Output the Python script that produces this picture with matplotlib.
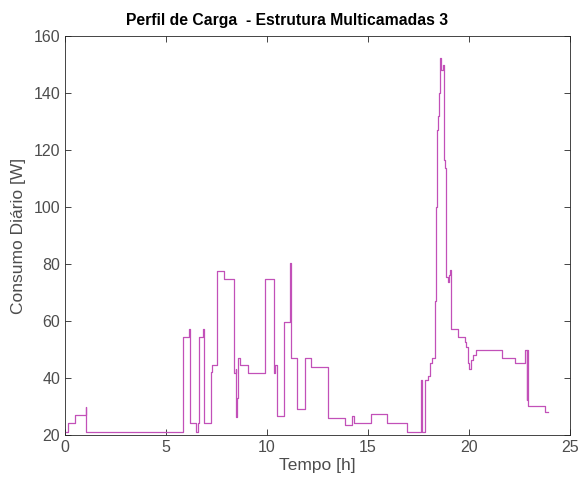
"""Perfil de carga diário - estrutura multicamadas 3."""

import matplotlib
matplotlib.use("Agg")
import matplotlib.pyplot as plt

# instantes de mudança [h] e consumo a partir desse instante [W]
tempo_h = [0.0, 0.16, 0.5, 1.02, 1.05, 5.83, 6.16, 6.21, 6.5, 6.57, 6.62,
           6.84, 6.87, 7.23, 7.28, 7.53, 7.86, 8.38, 8.45, 8.48, 8.52, 8.56,
           8.66, 9.04, 9.9, 10.36, 10.42, 10.49, 10.82, 11.13, 11.19, 11.5,
           11.88, 12.16, 13.02, 13.86, 14.22, 14.32, 15.15, 15.94, 16.93,
           17.62, 17.66, 17.83, 17.95, 18.08, 18.16, 18.33, 18.38, 18.42,
           18.47, 18.5, 18.55, 18.62, 18.72, 18.76, 18.8, 18.88, 18.95, 19.0,
           19.06, 19.1, 19.48, 19.81, 19.87, 19.94, 20.02, 20.1, 20.2, 20.33,
           21.61, 22.3, 22.76, 22.85, 22.88, 22.93, 23.75, 23.92]
consumo_w = [21.2, 24.1, 27.0, 30.0, 21.0, 54.3, 57.2, 24.1, 21.0, 24.1, 54.3,
             57.2, 24.1, 42.0, 44.5, 77.6, 74.7, 41.6, 43.0, 26.4, 33.0, 47.0,
             44.5, 41.6, 74.7, 41.6, 44.5, 26.8, 59.8, 80.2, 46.9, 29.0,
             46.9, 44.0, 26.1, 23.5, 26.7, 24.1, 27.2, 24.1, 20.9,
             39.3, 21.0, 39.3, 40.8, 45.1, 46.9, 67.0, 100.0, 127.0,
             132.0, 140.0, 152.2, 148.0, 150.0, 116.5, 113.6, 75.5, 73.8, 76.0,
             78.0, 57.2, 54.5, 52.7, 51.0, 45.2, 43.0, 46.3, 48.0, 50.0,
             47.1, 45.2, 50.0, 32.3, 50.0, 30.2, 28.2, 28.2]

cinza = (0.15, 0.15, 0.15)
texto = (0.3, 0.3, 0.3)
plt.rcParams["font.family"] = ["Liberation Sans", "DejaVu Sans"]

fig = plt.figure(figsize=(5.78, 4.84), dpi=100)
# eixos em pixels: x 65..570, y 36..435
ax = fig.add_axes([65 / 578, 49 / 484, 505 / 578, 399 / 484])

ax.step(tempo_h, consumo_w, where="post", color="#C250B8", linewidth=0.9)

ax.set_xlim(0, 25)
ax.set_ylim(20, 160)
ax.set_xticks(range(0, 26, 5))
ax.set_yticks(range(20, 161, 20))
ax.tick_params(direction="in", top=True, right=True, length=4, width=0.6,
               colors=cinza, labelcolor=texto, labelsize=11.5)
for sp in ax.spines.values():
    sp.set_linewidth(0.6)
    sp.set_color(cinza)

ax.set_xlabel("Tempo [h]", fontsize=12.5, color=texto, labelpad=2)
ax.set_ylabel("Consumo Diário [W]", fontsize=12.5, color=texto, labelpad=5)
ax.set_title("Perfil de Carga  - Estrutura Multicamadas 3", fontsize=11.3,
             fontweight="bold", color="black", pad=8, x=0.44)

fig.savefig("out.png", dpi=100)
